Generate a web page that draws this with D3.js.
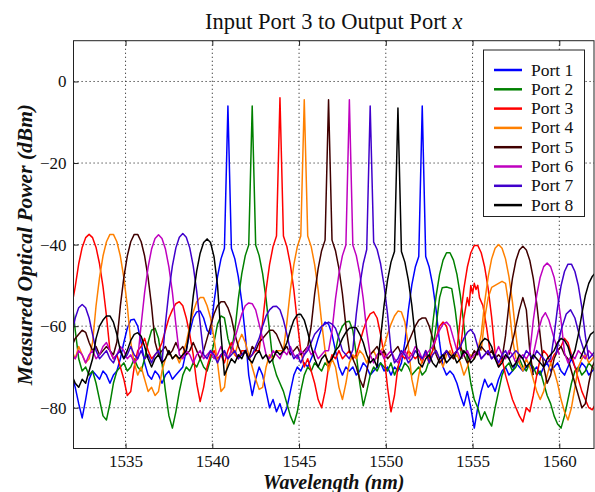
<!DOCTYPE html>
<html>
<head>
<meta charset="utf-8">
<script src="https://cdnjs.cloudflare.com/ajax/libs/d3/7.8.5/d3.min.js"></script>
<style>
    body { margin: 0; background: #fff; }
    svg { display: block; }
    text { font-family: "Liberation Serif", "Times New Roman", serif; }
</style>
</head>
<body>
<svg id="canvas" width="595" height="492"></svg>
<script>
// sampling grid of the spectra (nm)
let lambdaStart = 1531.9
let lambdaStep = 0.2

// measured power (dBm), one value per grid point
let port1 = [
    -72,-75,-79,-82.5,-78,-73,-71,-72,-73,-71,
    -72,-74,-72,-71,-68,-64,-60.5,-58.5,-58.3,-60,
    -64,-69,-72,-73,-71,-72,-74,-72,-71,-73,
    -72,-71,-70,-66,-61.5,-58,-56.5,-56.3,-58,-61,
    -62,-54.1,-47.9,-43.5,-40.9,-6,-40.9,-43.5,-47.9,-54.1,
    -62,-72,-77,-73,-70,-72,-76,-80,-78,-81,
    -79,-82,-80,-76,-72,-70,-71,-69,-70,-68,
    -66,-63,-60.5,-59,-59.5,-62,-66,-70,-72,-70,
    -71,-70,-72,-71,-69,-70,-72,-71,-70,-69,
    -71,-70,-72,-70,-71,-69,-64,-56.1,-49.9,-45.5,
    -42.9,-6,-42.9,-45.5,-49.9,-56.1,-64,-70,-72,-71,
    -72,-74,-77,-79.5,-76,-80,-85,-80,-76,-73,
    -75,-74,-76,-73,-71,-70,-72,-71,-69,-70,
    -71,-70,-69,-71,-70,-72,-70,-69,-71,-70,
    -69,-71,-72,-70,-68,-70,-71,-69,-70,-72,
    -71,-70
]
let port2 = [
    -53.1,-61,-68,-71,-70,-72,-71,-74,-78,-82,
    -83,-79,-74,-71,-70,-69,-71,-70,-68,-70,
    -71,-68,-64,-61,-60.5,-63,-69,-76,-82,-85,
    -81,-76,-72,-70,-71,-69,-70,-68,-70,-71,
    -68,-64,-59.5,-57.5,-58,-63,-66,-61.2,-53.3,-47.1,
    -42.7,-40.1,-6,-40.1,-42.7,-47.1,-53.3,-61.2,-69,-72,
    -74,-76,-79,-82,-84,-81,-76,-72,-70,-71,
    -69,-70,-71,-69,-70,-68,-66,-62,-60,-59,
    -58.8,-61,-67,-74,-79.5,-76,-72,-70,-71,-69,
    -70,-71,-69,-72,-70,-71,-69,-70,-72,-71,
    -70,-72,-71,-68.4,-59.6,-52.6,-47.3,-43.8,-42,-42,
    -43.8,-47.3,-52.6,-59.6,-68.4,-74,-78,-80,-83,-81,
    -83,-84.5,-80,-76,-72,-70,-69,-71,-70,-68,
    -70,-71,-69,-70,-72,-71,-74,-77,-79,-82,
    -84,-85,-82,-78,-74,-71,-70,-72,-71,-69,
    -70,-71
]
let port3 = [
    -55,-50.3,-44.7,-40.7,-38.3,-37.5,-38.3,-40.7,-44.7,-50.3,
    -57.5,-66,-68,-67,-70,-73,-77,-76,-70,-66,
    -65,-63,-66,-68,-67,-66,-64,-61,-58,-56,
    -54.5,-54,-55,-58,-62,-67,-74,-78.5,-75,-70,
    -67,-66,-68,-67,-69,-66,-64,-67,-68,-66,
    -66,-68,-67,-66,-66,-59,-51.1,-44.9,-40.5,-37.9,
    -4,-37.9,-40.5,-44.9,-51.1,-59,-66,-70,-68,-71,
    -74,-78,-80,-76,-70,-67,-68,-66,-68,-67,
    -66,-68,-67,-64,-61,-58.5,-57,-56.5,-58,-62,
    -67,-75,-81,-77,-70,-67,-68,-66,-67,-68,
    -67,-69,-66,-68,-66,-63,-60,-59,-60,-64,
    -67,-66,-57.8,-50.8,-45.5,-42,-40.2,-40.2,-42,-45.5,
    -50.8,-57.8,-66.6,-70,-68,-72,-75,-78,-80,-82,
    -83.5,-80,-81,-77,-72,-68,-66,-67,-69,-67,
    -66,-65,-63,-64,-67,-70,-73,-76,-78,-80,
    -80.5,-79
]
let port4 = [
    -66,-68,-65,-67,-69,-68,-64,-55,-48.1,-42.8,
    -39.3,-37.5,-37.5,-39.3,-42.8,-48.1,-55,-64,-69,-72,
    -70,-73,-76,-75,-77,-76,-71,-68,-66,-68,
    -67,-69,-67,-64,-60,-56.5,-54,-53,-53,-55,
    -58,-63,-69,-76,-75,-68,-66,-67,-64,-62,
    -64,-67,-70,-73,-75.5,-75,-70,-67,-68,-66,
    -66,-66,-59,-51.1,-44.9,-40.5,-37.9,-4.5,-37.9,-40.5,
    -44.9,-51.1,-59,-66,-71,-68,-70,-75,-78,-74,
    -69,-67,-68,-66,-67,-69,-67,-66,-68,-66,
    -65,-62,-59.5,-57.5,-56.3,-56.5,-59,-65,-73,-77,
    -72,-68,-67,-69,-67,-66,-68,-70,-67,-66,
    -68,-67,-69,-72,-70,-67,-68,-66,-62,-54.1,
    -47.9,-43.5,-40.9,-40,-40.9,-43.5,-47.9,-54.1,-62,-69,
    -71,-68,-70,-73,-76,-78,-76,-72,-69,-71,
    -74,-78,-81,-83,-80,-75,-70,-68,-67,-69,
    -68,-67
]
let port5 = [
    -65,-63,-62,-61,-61.5,-64,-66,-65,-67,-66,
    -65,-66,-67,-63.9,-55.1,-48.1,-42.8,-39.3,-37.5,-37.5,
    -39.3,-42.8,-48.1,-55.1,-63.9,-67,-66,-65,-67,-66,
    -64,-66,-65,-67,-66,-64,-66,-68,-66,-63,
    -60,-57,-55,-54,-54,-55.5,-58,-62,-65,-67,
    -66,-68,-65,-66,-64,-63,-62,-61,-61,-62,
    -64,-66,-65,-67,-66,-65,-67,-66,-65,-60,
    -52.1,-45.9,-41.5,-38.9,-4.5,-38.9,-41.5,-45.9,-52.1,-60,
    -66,-68,-70,-73,-75,-71,-67,-66,-65,-67,
    -66,-68,-67,-66,-65,-67,-66,-64,-62,-60,
    -58.5,-58,-58,-60,-63,-67,-69,-68,-66,-67,
    -68,-66,-65,-67,-69,-68,-66,-67,-65,-66,
    -67,-66,-68,-67,-68,-62.4,-54.5,-48.3,-43.9,-41.3,
    -40.4,-41.3,-43.9,-48.3,-54.5,-62.4,-70,-74,-72,-68,
    -66,-65,-67,-68,-71,-74,-77,-80,-79,-74,
    -70,-68
]
let port6 = [
    -67,-68,-66,-67,-69,-67,-66,-68,-67,-65,
    -64,-66,-68,-67,-65,-66,-68,-67,-69,-68,
    -59.6,-51.7,-45.5,-41.1,-38.5,-37.6,-38.5,-41.1,-45.5,-51.7,
    -59.6,-67,-68,-66,-67,-69,-67,-66,-68,-67,
    -66,-68,-67,-65,-67,-68,-66,-63,-60,-57,
    -55,-54.3,-54.5,-56,-59.5,-63,-67,-68,-66,-67,
    -68,-66,-67,-65,-67,-68,-66,-67,-65,-67,
    -66,-68,-67,-66,-66,-61.2,-53.3,-47.1,-42.7,-40.1,
    -4.5,-40.1,-42.7,-47.1,-53.3,-61.2,-67,-69,-67,-66,
    -68,-67,-66,-68,-69,-67,-66,-68,-67,-65,
    -66,-68,-67,-66,-65,-63,-61,-59.5,-59,-60,
    -63,-66,-68,-67,-66,-68,-67,-66,-68,-67,
    -66,-68,-67,-65,-67,-68,-66,-67,-69,-68,
    -67,-68,-66.5,-58.6,-52.4,-48,-45.4,-44.5,-45.4,-48,
    -52.4,-58.6,-66.5,-69,-67,-68,-66,-67,-68,-66,
    -67,-68
]
let port7 = [
    -62,-58,-55.5,-54.7,-55.5,-58,-62,-66,-68,-67,
    -66,-68,-69,-67,-66,-68,-67,-65,-67,-68,
    -66,-68,-67,-69,-67,-66,-69,-59.3,-51.4,-45.2,
    -40.8,-38.2,-37.3,-38.2,-40.8,-45.2,-51.4,-59.3,-67,-68,
    -66,-67,-69,-67,-66,-68,-67,-66,-68,-67,
    -66,-68,-67,-65,-63,-60,-57.5,-56,-55.2,-55.1,
    -56,-58.5,-62,-66,-68,-67,-69,-67,-66,-64,
    -62,-61,-60,-59.5,-59,-59.5,-60.5,-63,-66,-67,
    -68,-65.8,-57,-50,-44.7,-41.2,-6,-39.4,-41.2,-44.7,
    -50,-57,-65.8,-69,-68,-66,-67,-69,-68,-66,
    -67,-68,-66,-69,-67,-66,-68,-67,-66,-68,
    -67,-66,-65,-63,-61.5,-60.8,-62,-65,-68,-67,
    -66,-68,-67,-69,-67,-66,-68,-67,-66,-67,
    -68,-66,-67,-68,-66,-67,-68,-69,-68,-62.4,
    -55.4,-50.1,-46.6,-44.8,-44.8,-46.6,-50.1,-55.4,-62.4,-68,
    -67,-66
]
let port8 = [
    -72,-74,-75,-73,-74,-71,-68,-63,-60,-58.5,
    -57.5,-57.5,-59,-62,-66,-68,-66,-63.5,-62,-61.6,
    -62.5,-65,-68,-70,-68,-67,-69,-68,-66,-68,
    -67,-68,-67,-66,-60.6,-52.7,-46.5,-42.1,-39.5,-38.6,
    -39.5,-43,-50,-62,-72,-70,-68,-69,-67,-68,
    -66,-68,-69,-67,-66,-68,-67,-69,-68,-66,
    -67,-66,-64,-61,-58.5,-57.2,-57.1,-58.5,-61.5,-65,
    -68,-70,-68,-67,-69,-68,-66,-65,-63,-61.5,
    -60.5,-60.3,-60.4,-62,-64,-67,-69,-68,-70,-62.8,
    -54.9,-48.7,-44.3,-41.7,-6.5,-41.7,-44.3,-48.7,-54.9,-62.8,
    -69,-70,-68,-67,-69,-70,-68,-67,-69,-68,
    -67,-69,-68,-66,-67,-69,-68,-66,-64,-63,
    -63.5,-65,-68,-70,-69,-67,-68,-70,-69,-67,
    -68,-70,-69,-67,-68,-69,-70,-68,-67,-66,
    -64,-63,-63.5,-65,-68,-66,-62,-57,-52.5,-49.5,
    -47.8,-46.8
]

// weaker second traces seen inside the lobes on the long-wavelength side: [nm, dBm]
let port2Inner = [[1552.7,-66],[1552.9,-60],[1553.1,-53],[1553.25,-50.6],[1553.5,-50.4],[1553.8,-50.8],[1554.0,-56],[1554.2,-63],[1554.4,-68]]
let port3Inner = [[1554.3,-66],[1554.5,-58],[1554.7,-53],[1554.8,-55],[1554.9,-50],[1555.0,-52],[1555.1,-49.5],[1555.2,-51],[1555.3,-50],[1555.4,-53],[1555.6,-55],[1555.8,-60],[1556.0,-66]]
let port4Inner = [[1555.5,-66],[1555.7,-58],[1555.9,-53],[1556.1,-50.5],[1556.3,-50],[1556.5,-49.5],[1556.7,-49],[1556.9,-49.5],[1557.1,-55],[1557.3,-63],[1557.5,-68]]
let port5Inner = [[1557.1,-67],[1557.4,-62],[1557.7,-56],[1557.9,-53],[1558.1,-56],[1558.3,-66],[1558.5,-72]]
let port6Inner = [[1558.5,-67],[1558.8,-61],[1559.0,-58],[1559.2,-56.7],[1559.4,-58.5],[1559.7,-63],[1560.0,-67]]
let port7Inner = [[1559.8,-67],[1560.1,-61],[1560.4,-57],[1560.65,-56],[1560.9,-58],[1561.2,-63],[1561.5,-67]]
let port8Inner = [[1561.2,-68],[1561.5,-65],[1561.8,-62],[1562.1,-61]]

let portNames = ["Port 1", "Port 2", "Port 3", "Port 4", "Port 5", "Port 6", "Port 7", "Port 8"]
let portColors = ["#0000ff", "#008000", "#ff0000", "#ff8000", "#400000", "#bf00bf", "#4000cc", "#000000"]

let xTicks = [1535, 1540, 1545, 1550, 1555, 1560]
let yTicks = [0, -20, -40, -60, -80]

let spectra = [port1, port2, port3, port4, port5, port6, port7, port8]
let innerTraces = [null, port2Inner, port3Inner, port4Inner, port5Inner, port6Inner, port7Inner, port8Inner]

let serif = "'Liberation Serif', 'Times New Roman', serif"

let plotLeft = 73.5
let plotRight = 594
let plotTop = 40.7
let plotBottom = 448.5

let canvas = d3.select("#canvas")

let xScale = d3.scaleLinear()
                .domain([1532, 1562])
                .range([plotLeft, plotRight])

let yScale = d3.scaleLinear()
                .domain([-90, 10])
                .range([plotBottom, plotTop])

canvas.append("defs")
        .append("clipPath")
        .attr("id", "plot-clip")
        .append("rect")
        .attr("x", plotLeft)
        .attr("y", plotTop)
        .attr("width", plotRight - plotLeft)
        .attr("height", plotBottom - plotTop)

// dotted grid
canvas.append("g")
        .selectAll("line")
        .data(xTicks)
        .enter()
        .append("line")
        .attr("x1", d => xScale(d))
        .attr("x2", d => xScale(d))
        .attr("y1", plotTop)
        .attr("y2", plotBottom)
        .attr("stroke", "#333")
        .attr("stroke-dasharray", "1.2,2.8")

canvas.append("g")
        .selectAll("line")
        .data(yTicks)
        .enter()
        .append("line")
        .attr("x1", plotLeft)
        .attr("x2", plotRight)
        .attr("y1", d => yScale(d))
        .attr("y2", d => yScale(d))
        .attr("stroke", "#333")
        .attr("stroke-dasharray", "1.2,2.8")

let spectrumLine = d3.line()
                    .x((d, i) => xScale(lambdaStart + i * lambdaStep))
                    .y(d => yScale(d))

let innerLine = d3.line()
                    .x(d => xScale(d[0]))
                    .y(d => yScale(d[1]))

let traces = canvas.append("g")
                    .attr("clip-path", "url(#plot-clip)")
                    .attr("fill", "none")
                    .attr("stroke-width", 1.5)
                    .attr("stroke-linejoin", "round")

spectra.forEach((values, i) => {
    traces.append("path")
            .attr("d", spectrumLine(values))
            .attr("stroke", portColors[i])
    if (innerTraces[i]) {
        traces.append("path")
                .attr("d", innerLine(innerTraces[i]))
                .attr("stroke", portColors[i])
    }
})

// axes with inward ticks
let xAxis = d3.axisBottom(xScale)
                .tickValues(xTicks)
                .tickSizeInner(-5)
                .tickSizeOuter(0)
                .tickPadding(6)
                .tickFormat(d3.format("d"))

let yAxis = d3.axisLeft(yScale)
                .tickValues(yTicks)
                .tickSizeInner(-5)
                .tickSizeOuter(0)
                .tickPadding(7)

let xAxisGroup = canvas.append("g")
                        .attr("transform", "translate(0," + plotBottom + ")")
                        .call(xAxis)
xAxisGroup.select(".domain").remove()

let yAxisGroup = canvas.append("g")
                        .attr("transform", "translate(" + plotLeft + ",0)")
                        .call(yAxis)
yAxisGroup.select(".domain").remove()

canvas.append("g")
        .attr("transform", "translate(0," + plotTop + ")")
        .call(d3.axisTop(xScale).tickValues(xTicks).tickSizeInner(-5).tickSizeOuter(0).tickFormat(""))
        .select(".domain").remove()

canvas.selectAll(".tick line").attr("stroke", "#222")
canvas.selectAll(".tick text")
        .style("font-family", serif)
        .style("font-size", "17px")
        .attr("fill", "#111")

canvas.append("rect")
        .attr("x", plotLeft)
        .attr("y", plotTop)
        .attr("width", plotRight - plotLeft)
        .attr("height", plotBottom - plotTop)
        .attr("fill", "none")
        .attr("stroke", "#222")
        .attr("stroke-width", 1)

// legend
let legend = canvas.append("g")
                    .attr("transform", "translate(483.5, 50)")

legend.append("rect")
        .attr("width", 101)
        .attr("height", 166.5)
        .attr("fill", "#fff")
        .attr("stroke", "#222")
        .attr("stroke-width", 1)

let legendRows = legend.selectAll(".row")
                        .data(portNames)
                        .enter()
                        .append("g")
                        .attr("class", "row")
                        .attr("transform", (d, i) => "translate(0," + (20 + i * 19.3) + ")")

legendRows.append("line")
            .attr("x1", 10.5)
            .attr("x2", 38.5)
            .attr("stroke", (d, i) => portColors[i])
            .attr("stroke-width", 2.5)

legendRows.append("text")
            .attr("x", 47.5)
            .attr("y", 5.5)
            .style("font-family", serif)
            .style("font-size", "17.5px")
            .attr("fill", "#111")
            .text(d => d)

// titles
let title = canvas.append("text")
                    .attr("x", (plotLeft + plotRight) / 2)
                    .attr("y", 29)
                    .attr("text-anchor", "middle")
                    .style("font-family", serif)
                    .style("font-size", "22.5px")
                    .attr("fill", "#111")
                    .text("Input Port 3 to Output Port ")
title.append("tspan")
        .attr("font-style", "italic")
        .text("x")

canvas.append("text")
        .attr("x", (plotLeft + plotRight) / 2)
        .attr("y", 488.5)
        .attr("text-anchor", "middle")
        .style("font-family", serif)
        .style("font-size", "20px")
        .attr("font-weight", "bold")
        .attr("font-style", "italic")
        .attr("fill", "#111")
        .text("Wavelength (nm)")

canvas.append("text")
        .attr("transform", "translate(32," + ((plotTop + plotBottom) / 2) + ") rotate(-90)")
        .attr("text-anchor", "middle")
        .style("font-family", serif)
        .style("font-size", "21.5px")
        .attr("font-weight", "bold")
        .attr("font-style", "italic")
        .attr("fill", "#111")
        .text("Measured Optical Power (dBm)")
</script>
</body>
</html>
